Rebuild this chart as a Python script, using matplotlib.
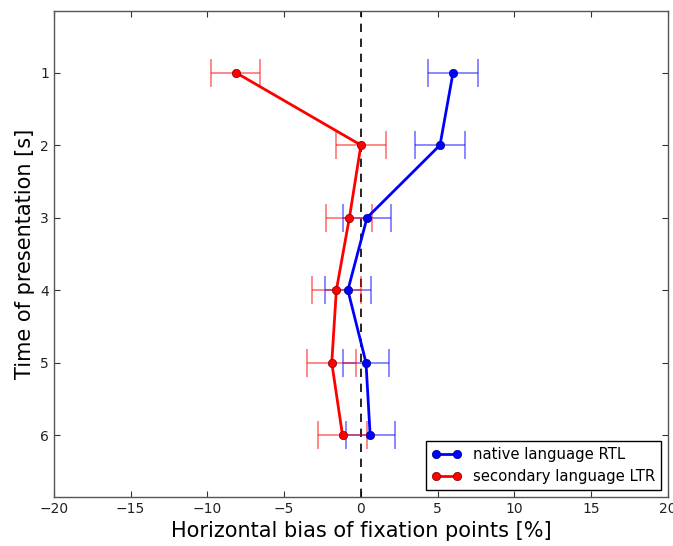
import matplotlib
matplotlib.use("Agg")
import matplotlib.pyplot as plt

times = [1, 2, 3, 4, 5, 6]
native_rtl = [6.0, 5.15, 0.4, -0.85, 0.33, 0.6]
native_err = [1.6, 1.6, 1.55, 1.5, 1.5, 1.6]
second_ltr = [-8.15, 0.0, -0.75, -1.6, -1.9, -1.2]
second_err = [1.6, 1.65, 1.5, 1.6, 1.6, 1.6]
xticks = [-20, -15, -10, -5, 0, 5, 10, 15, 20]
yticks = [1, 2, 3, 4, 5, 6]

fig = plt.figure(figsize=(6.73, 5.46), dpi=100)
ax = fig.add_axes([0.080, 0.090, 0.9126, 0.890])

ax.axvline(0, color='black', linestyle='--', linewidth=1.2, dashes=(5, 4))

ax.errorbar(native_rtl, times, xerr=native_err, fmt='none', ecolor='blue',
            alpha=0.5, capsize=10, elinewidth=1.3, capthick=1.3)
ax.errorbar(second_ltr, times, xerr=second_err, fmt='none', ecolor='red',
            alpha=0.5, capsize=10, elinewidth=1.3, capthick=1.3)
ax.plot(native_rtl, times, '-o', color='blue', linewidth=2, markersize=6,
        markeredgecolor='#000080', markeredgewidth=0.5, label='native language RTL')
ax.plot(second_ltr, times, '-o', color='red', linewidth=2, markersize=6,
        markeredgecolor='#800000', markeredgewidth=0.5, label='secondary language LTR')

ax.set_xlim(-20, 20)
ax.set_ylim(6.85, 0.15)
ax.set_xticks(xticks)
ax.set_yticks(yticks)
ax.tick_params(direction='in', top=True, right=True, length=4, labelsize=10,
               colors='#333333', labelcolor='#222222')
for s in ax.spines.values():
    s.set_color('#555555')
    s.set_linewidth(1.0)

ax.set_xlabel('Horizontal bias of fixation points [%]', fontsize=15)
ax.set_ylabel('Time of presentation [s]', fontsize=15)

leg = ax.legend(loc='lower right', numpoints=2, fontsize=10.7, fancybox=False,
                framealpha=1, borderaxespad=0.45, handlelength=2.0)
leg.get_frame().set_edgecolor('black')

fig.savefig('out.png', dpi=100)
